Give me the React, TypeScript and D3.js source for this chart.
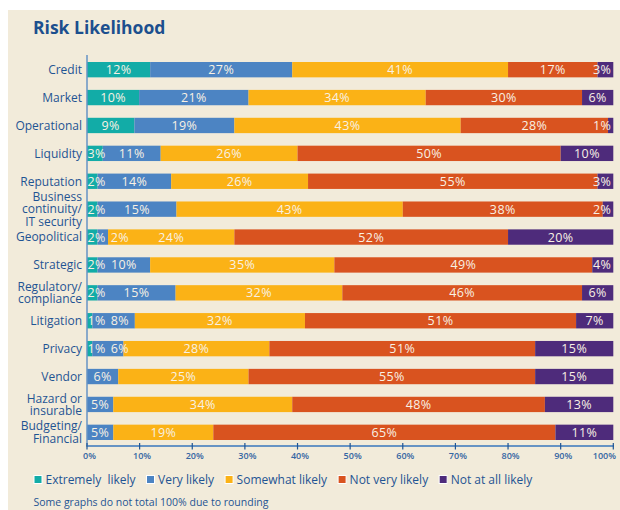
import React, { useMemo } from "react";
import * as d3 from "d3";

const title = "Risk Likelihood";
const footnote = "Some graphs do not total 100% due to rounding";
const categories = [
  "Credit",
  "Market",
  "Operational",
  "Liquidity",
  "Reputation",
  "Business\ncontinuity/\nIT security",
  "Geopolitical",
  "Strategic",
  "Regulatory/\ncompliance",
  "Litigation",
  "Privacy",
  "Vendor",
  "Hazard or\ninsurable",
  "Budgeting/\nFinancial",
];
const seriesNames = ["Extremely likely", "Very likely", "Somewhat likely", "Not very likely", "Not at all likely"];
const extremelyLikely = [12, 10, 9, 3, 2, 2, 2, 2, 2, 1, 1, 0, 0, 0];
const veryLikely = [27, 21, 19, 11, 14, 15, 2, 10, 15, 8, 6, 6, 5, 5];
const somewhatLikely = [41, 34, 43, 26, 26, 43, 24, 35, 32, 32, 28, 25, 34, 19];
const notVeryLikely = [17, 30, 28, 50, 55, 38, 52, 49, 46, 51, 51, 55, 48, 65];
const notAtAllLikely = [3, 6, 1, 10, 3, 2, 20, 4, 6, 7, 15, 15, 13, 11];
const xTickValues = [0, 10, 20, 30, 40, 50, 60, 70, 80, 90, 100];

const seriesValues = [extremelyLikely, veryLikely, somewhatLikely, notVeryLikely, notAtAllLikely];
const colors = ["#12aca7", "#4c84c3", "#fbb216", "#d9531f", "#4e2b7b"];
const BG = "#f2ebda";
const AXIS = "#6693c4";
const TEXT = "#1f5493";
const LABEL = "#f8f1e4";
const FONT = '"Open Sans", "Noto Sans", sans-serif';

let ctx: CanvasRenderingContext2D | null = null;
function measure(text: string, font: string) {
  if (!ctx) ctx = document.createElement("canvas").getContext("2d");
  if (!ctx) return text.length * 7;
  ctx.font = font;
  return ctx.measureText(text).width;
}

export default function App() {
  const W = 620;
  const H = 510;
  const x = d3.scaleLinear().domain([0, 1]).range([87, 613.3]);
  const xt = d3.scaleLinear().domain([0, 100]).range([87, 613.3]);
  const y = d3.scaleBand<string>().domain(categories).range([62, 440]).paddingInner(0.45).paddingOuter(0);

  const rows = categories.map((c, i) => {
    const o: any = { cat: c };
    seriesNames.forEach((s, k) => (o[s] = seriesValues[k][i]));
    return o;
  });
  const stacked = d3.stack<any>().keys(seriesNames).offset(d3.stackOffsetExpand)(rows);

  const labelFont = `12.5px ${FONT}`;
  const labels = useMemo(() => {
    const out: { key: string; x: number; y: number; text: string }[] = [];
    rows.forEach((r, i) => {
      const start = x(0);
      const end = x(1);
      let prevRight = -Infinity;
      stacked.forEach((ser, k) => {
        const v = seriesValues[k][i];
        if (!v) return;
        const x0 = x(ser[i][0]);
        const x1 = x(ser[i][1]);
        const text = `${v}%`;
        const w = measure(text, labelFont) + text.length * 0.4;
        let left = (x0 + x1) / 2 - w / 2;
        left = Math.max(left, start + 0.5, prevRight + 5);
        if (left + w > end - 2) left = end - 2 - w;
        prevRight = left + w;
        out.push({ key: `${i}-${k}`, x: left, y: (y(r.cat) as number) + y.bandwidth() / 2, text });
      });
    });
    return out;
  }, []);

  // legend layout
  const legendSize = 12;
  const legendFont = `${legendSize}px ${FONT}`;
  const legendItems: { name: string; sx: number; tx: number; color: string }[] = [];
  let lx = 34;
  seriesNames.forEach((s, k) => {
    const tx = lx + 11.5;
    legendItems.push({ name: s, sx: lx, tx, color: colors[k] });
    lx = tx + measure(s, legendFont) + (k === 0 ? 3 : 0) + 11;
  });

  const axisY = 446;
  const catSize = 12;
  const lh = 12.3;

  return (
    <svg width={W} height={H} style={{ position: "absolute", left: 0, top: 0 }} fontFamily={FONT}>
      <rect x={8} y={10} width={612} height={500} fill={BG} />
      <text x={33} y={34} fontSize={17.5} fontWeight={700} fill="#1c4f8e">
        {title}
      </text>

      {stacked.map((ser, k) => (
        <g key={seriesNames[k]} fill={colors[k]}>
          {ser.map((d, i) => (
            <rect
              key={i}
              x={x(d[0])}
              y={y(categories[i])}
              width={Math.max(0, x(d[1]) - x(d[0]))}
              height={y.bandwidth()}
            />
          ))}
        </g>
      ))}

      {labels.map((l) => (
        <text key={l.key} x={l.x} y={l.y} dy="0.36em" fontSize={12.5} letterSpacing={0.4} fill={LABEL}>
          {l.text}
        </text>
      ))}

      {categories.map((c) => {
        const lines = c.split("\n");
        const cy = (y(c) as number) + y.bandwidth() / 2;
        const top = cy - ((lines.length - 1) / 2) * lh;
        return (
          <g key={c}>
            {lines.map((ln, j) => (
              <text key={j} x={82} y={top + j * lh} dy="0.36em" textAnchor="end" fontSize={catSize} fill={TEXT}>
                {ln}
              </text>
            ))}
          </g>
        );
      })}

      <line x1={87} x2={87} y1={55} y2={axisY} stroke={AXIS} strokeWidth={1.5} />
      <line x1={86.3} x2={614} y1={axisY} y2={axisY} stroke={AXIS} strokeWidth={2} />
      {xTickValues.map((t, i) => {
        const last = i === xTickValues.length - 1;
        return (
          <g key={t}>
            <line x1={xt(t)} x2={xt(t)} y1={axisY - 3} y2={axisY + 3.5} stroke={TEXT} strokeWidth={1.2} />
            <text
              x={last ? 616 : xt(t) + 2.5}
              y={456}
              dy="0.35em"
              textAnchor={last ? "end" : "middle"}
              fontSize={9}
              fontWeight={600}
              fill="#3566a3"
            >
              {`${t}%`}
            </text>
          </g>
        );
      })}

      {legendItems.map((it, k) => (
        <g key={it.name}>
          <rect x={it.sx} y={475.5} width={8} height={8} fill={it.color} stroke="#ffffff" strokeWidth={1} />
          <text x={it.tx} y={480} dy="0.36em" fontSize={legendSize} wordSpacing={k === 0 ? 3 : 0} fill={TEXT}>
            {it.name}
          </text>
        </g>
      ))}

      <text x={33.5} y={502} dy="0.35em" fontSize={10.5} fill={TEXT}>
        {footnote}
      </text>
    </svg>
  );
}
